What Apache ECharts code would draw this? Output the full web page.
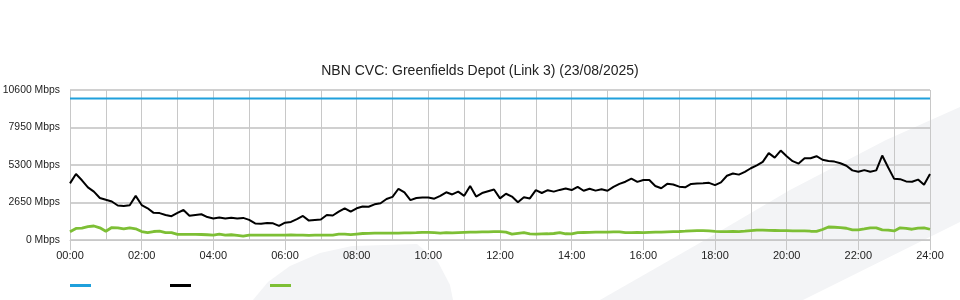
<!DOCTYPE html>
<html><head><meta charset="utf-8">
<script src="https://cdn.jsdelivr.net/npm/echarts@6/dist/echarts.min.js"></script>
<style>html,body{margin:0;padding:0;background:#fff}#c{width:960px;height:300px}</style>
</head><body><div id="c"></div>
<script>
const titleText = 'NBN CVC: Greenfields Depot (Link 3) (23/08/2025)';
const yTicks = [0, 2650, 5300, 7950, 10600];
const stepMinutes = 10;
const capacityTimes = [0, 1440];
const capacityValues = [10000, 10000];
const downloadValues = [4000,4660,4220,3720,3420,2970,2840,2720,2440,2400,2460,3120,2470,2240,1920,1900,1770,1680,1920,2120,1720,1770,1820,1620,1520,1590,1520,1580,1520,1560,1420,1170,1150,1200,1180,1000,1220,1280,1470,1700,1370,1420,1450,1770,1730,2000,2240,2000,2240,2370,2350,2520,2600,2900,3050,3620,3370,2820,2970,3010,3000,2920,3120,3370,3220,3420,3120,3810,3070,3320,3450,3570,2940,3270,3070,2670,3020,2940,3520,3320,3520,3420,3540,3640,3530,3760,3480,3620,3490,3580,3480,3760,3970,4120,4340,4110,4240,4240,3820,3660,3970,3920,3770,3720,3960,3990,4010,4040,3880,4070,4540,4700,4620,4820,5070,5270,5520,6140,5820,6320,5920,5570,5400,5770,5780,5920,5670,5590,5540,5420,5250,4920,4820,4940,4820,4920,5970,5120,4320,4300,4140,4120,4270,3900,4660];
const uploadValues = [590,820,840,940,990,860,620,880,860,780,860,790,600,520,600,620,520,520,400,400,400,400,390,370,350,410,350,370,330,280,350,350,350,350,350,350,350,360,350,340,330,340,350,350,350,420,420,380,420,460,470,480,480,480,490,490,500,510,520,540,540,520,480,520,500,520,540,560,560,570,580,590,590,560,420,470,520,430,420,430,440,460,520,440,430,520,530,540,550,560,560,570,570,520,520,530,520,540,560,550,570,590,600,620,650,660,660,640,610,590,590,600,590,620,660,700,700,680,670,660,660,650,640,640,620,610,740,920,900,870,830,720,710,780,860,860,720,700,640,860,820,760,840,860,760];

const toPairs = (vals) => vals.map((v, i) => [i * stepMinutes, v]);
const FONT = "'Liberation Sans', Arial, sans-serif";
const chart = echarts.init(document.getElementById('c'), null, {renderer: 'canvas'});
chart.setOption({
  animation: false,
  backgroundColor: '#fff',
  textStyle: {fontFamily: FONT},
  title: {text: titleText, left: 'center', top: 64, padding: 0,
    textStyle: {fontFamily: FONT, fontSize: 14, fontWeight: 'normal', color: '#222'}},
  graphic: [
    {type: 'polygon', z: -10, silent: true,
     shape: {points: [[253,300],[268,282],[290,266],[320,253],[352,246],[417,244],[438,262],[450,285],[453,300]]},
     style: {fill: '#f3f4f6'}},
    {type: 'polygon', z: -10, silent: true,
     shape: {points: [[600,300],[705,240],[790,190],[886,140],[960,107],[960,222],[803,300]]},
     style: {fill: '#f3f4f6'}}
  ],
  legend: {left: 65, top: 279, itemWidth: 21, itemHeight: 3, itemGap: 79, icon: 'rect',
    formatter: () => '', textStyle: {fontSize: 1}, selectedMode: false},
  grid: {left: 70, right: 30, top: 90, bottom: 60, containLabel: false, outerBoundsMode: 'none'},
  xAxis: {type: 'value', min: 0, max: 1440, interval: 120,
    axisLine: {show: true, lineStyle: {color: '#c8c8c8', width: 1}},
    axisTick: {show: true, length: 10, lineStyle: {color: '#c8c8c8'}},
    axisLabel: {fontFamily: FONT, fontSize: 11, color: '#222', margin: 10,
      formatter: v => String(Math.round(v/60)).padStart(2,'0') + ':00'},
    splitLine: {show: true, lineStyle: {color: '#c8c8c8', width: 1}},
    minorTick: {show: false, splitNumber: 2},
    minorSplitLine: {show: true, lineStyle: {color: '#c8c8c8', width: 1}}
  },
  yAxis: {type: 'value', min: 0, max: 10600, interval: 2650,
    axisLine: {show: false}, axisTick: {show: false},
    axisLabel: {fontFamily: FONT, fontSize: 10.4, color: '#222', margin: 10,
      formatter: v => v + ' Mbps'},
    splitLine: {show: true, lineStyle: {color: '#c0c0c0', width: 1.5}}
  },
  series: [
    {name: 'Capacity', type: 'line', showSymbol: false, color: '#1fa0dc',
     lineStyle: {width: 2, color: '#1fa0dc'},
     data: capacityTimes.map((t, i) => [t, capacityValues[i]])},
    {name: 'Download', type: 'line', showSymbol: false, color: '#000',
     lineStyle: {width: 2, color: '#000'}, data: toPairs(downloadValues)},
    {name: 'Upload', type: 'line', showSymbol: false, color: '#7dbf35',
     lineStyle: {width: 2.8, color: '#7dbf35'}, data: toPairs(uploadValues)}
  ]
});
</script></body></html>
